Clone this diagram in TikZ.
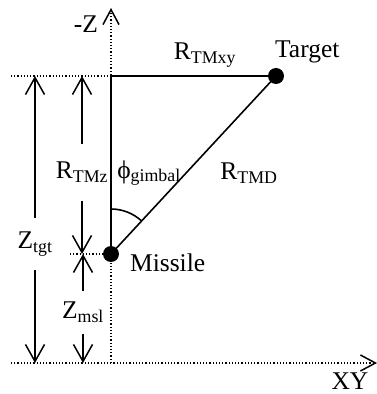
\documentclass[tikz,border=0pt]{standalone}
\usepackage{fontspec}
\setmainfont{Liberation Serif}
\usetikzlibrary{arrows.meta}
\begin{document}
\begin{tikzpicture}[x=1pt, y=1pt, line width=1.6pt, font=\fontsize{25.5}{30}\selectfont,
  barb/.style={line width=1.5pt, -{Straight Barb[length=17pt, width=19pt]}},
  dots/.style={line width=1.2pt, dash pattern=on 1.2pt off 2pt},
  axis/.style={dots, -{Straight Barb[length=15pt, width=16pt, line width=1.5pt]}},
  ball/.style={circle, fill, inner sep=0pt, minimum size=16pt},
  gap/.style={inner sep=0pt}]
  \useasboundingbox (0,0) rectangle (377,394);
  % axes
  \coordinate (org) at (111,31);
  \coordinate (ztop) at (111,386);
  \coordinate (xyl) at (11,31);
  \coordinate (xyr) at (377,31);
  \coordinate (corner) at (111,318);
  \coordinate (cornl) at (11,318);
  \coordinate (msll) at (70,140);
  \draw[axis] (org) -- (ztop);
  \draw[axis] (xyl) -- (xyr);
  \node (negz) at (86,370) {-Z};
  \node (xy) at (350,13) {XY};
  % missile / target triangle
  \node[ball] (msl) at (111,140) {};
  \node[ball] (tgt) at (276,318) {};
  \draw[dots] (cornl) -- (corner);
  \draw[dots] (msll) -- (msl);
  \draw (msl.center) -- (corner) -- (tgt.center) -- (msl.center);
  \draw ([shift={(90:45)}]msl.center) arc[start angle=90, end angle=47, radius=45];
  \node[anchor=west] (target) at (271,342) {Target};
  \node[anchor=west] (missile) at (126,131) {Missile};
  \node (rtmxy) at (205,339) {R\textsubscript{TMxy}};
  \node (rtmd) at (249,221) {R\textsubscript{TMD}};
  \node (phig) at (149,221) {ϕ\textsubscript{gimbal}};
  % dimensions
  \node[gap, minimum height=51pt] (ztgt) at (35,150) {Z\textsubscript{tgt}};
  \node[gap, minimum height=55pt] (rtmz) at (82,221.5) {R\textsubscript{TMz}};
  \node[gap, minimum height=41pt] (zmsl) at (83,81.5) {Z\textsubscript{msl}};
  \draw[barb] (ztgt.north) -- (ztgt.north |- corner);
  \draw[barb] (ztgt.south) -- (ztgt.south |- org);
  \draw[barb] (rtmz.north) -- (rtmz.north |- corner);
  \draw[barb] (rtmz.south) -- (rtmz.south |- msl);
  \draw[barb] (zmsl.north) -- (zmsl.north |- msl);
  \draw[barb] (zmsl.south) -- (zmsl.south |- org);
\end{tikzpicture}
\end{document}
